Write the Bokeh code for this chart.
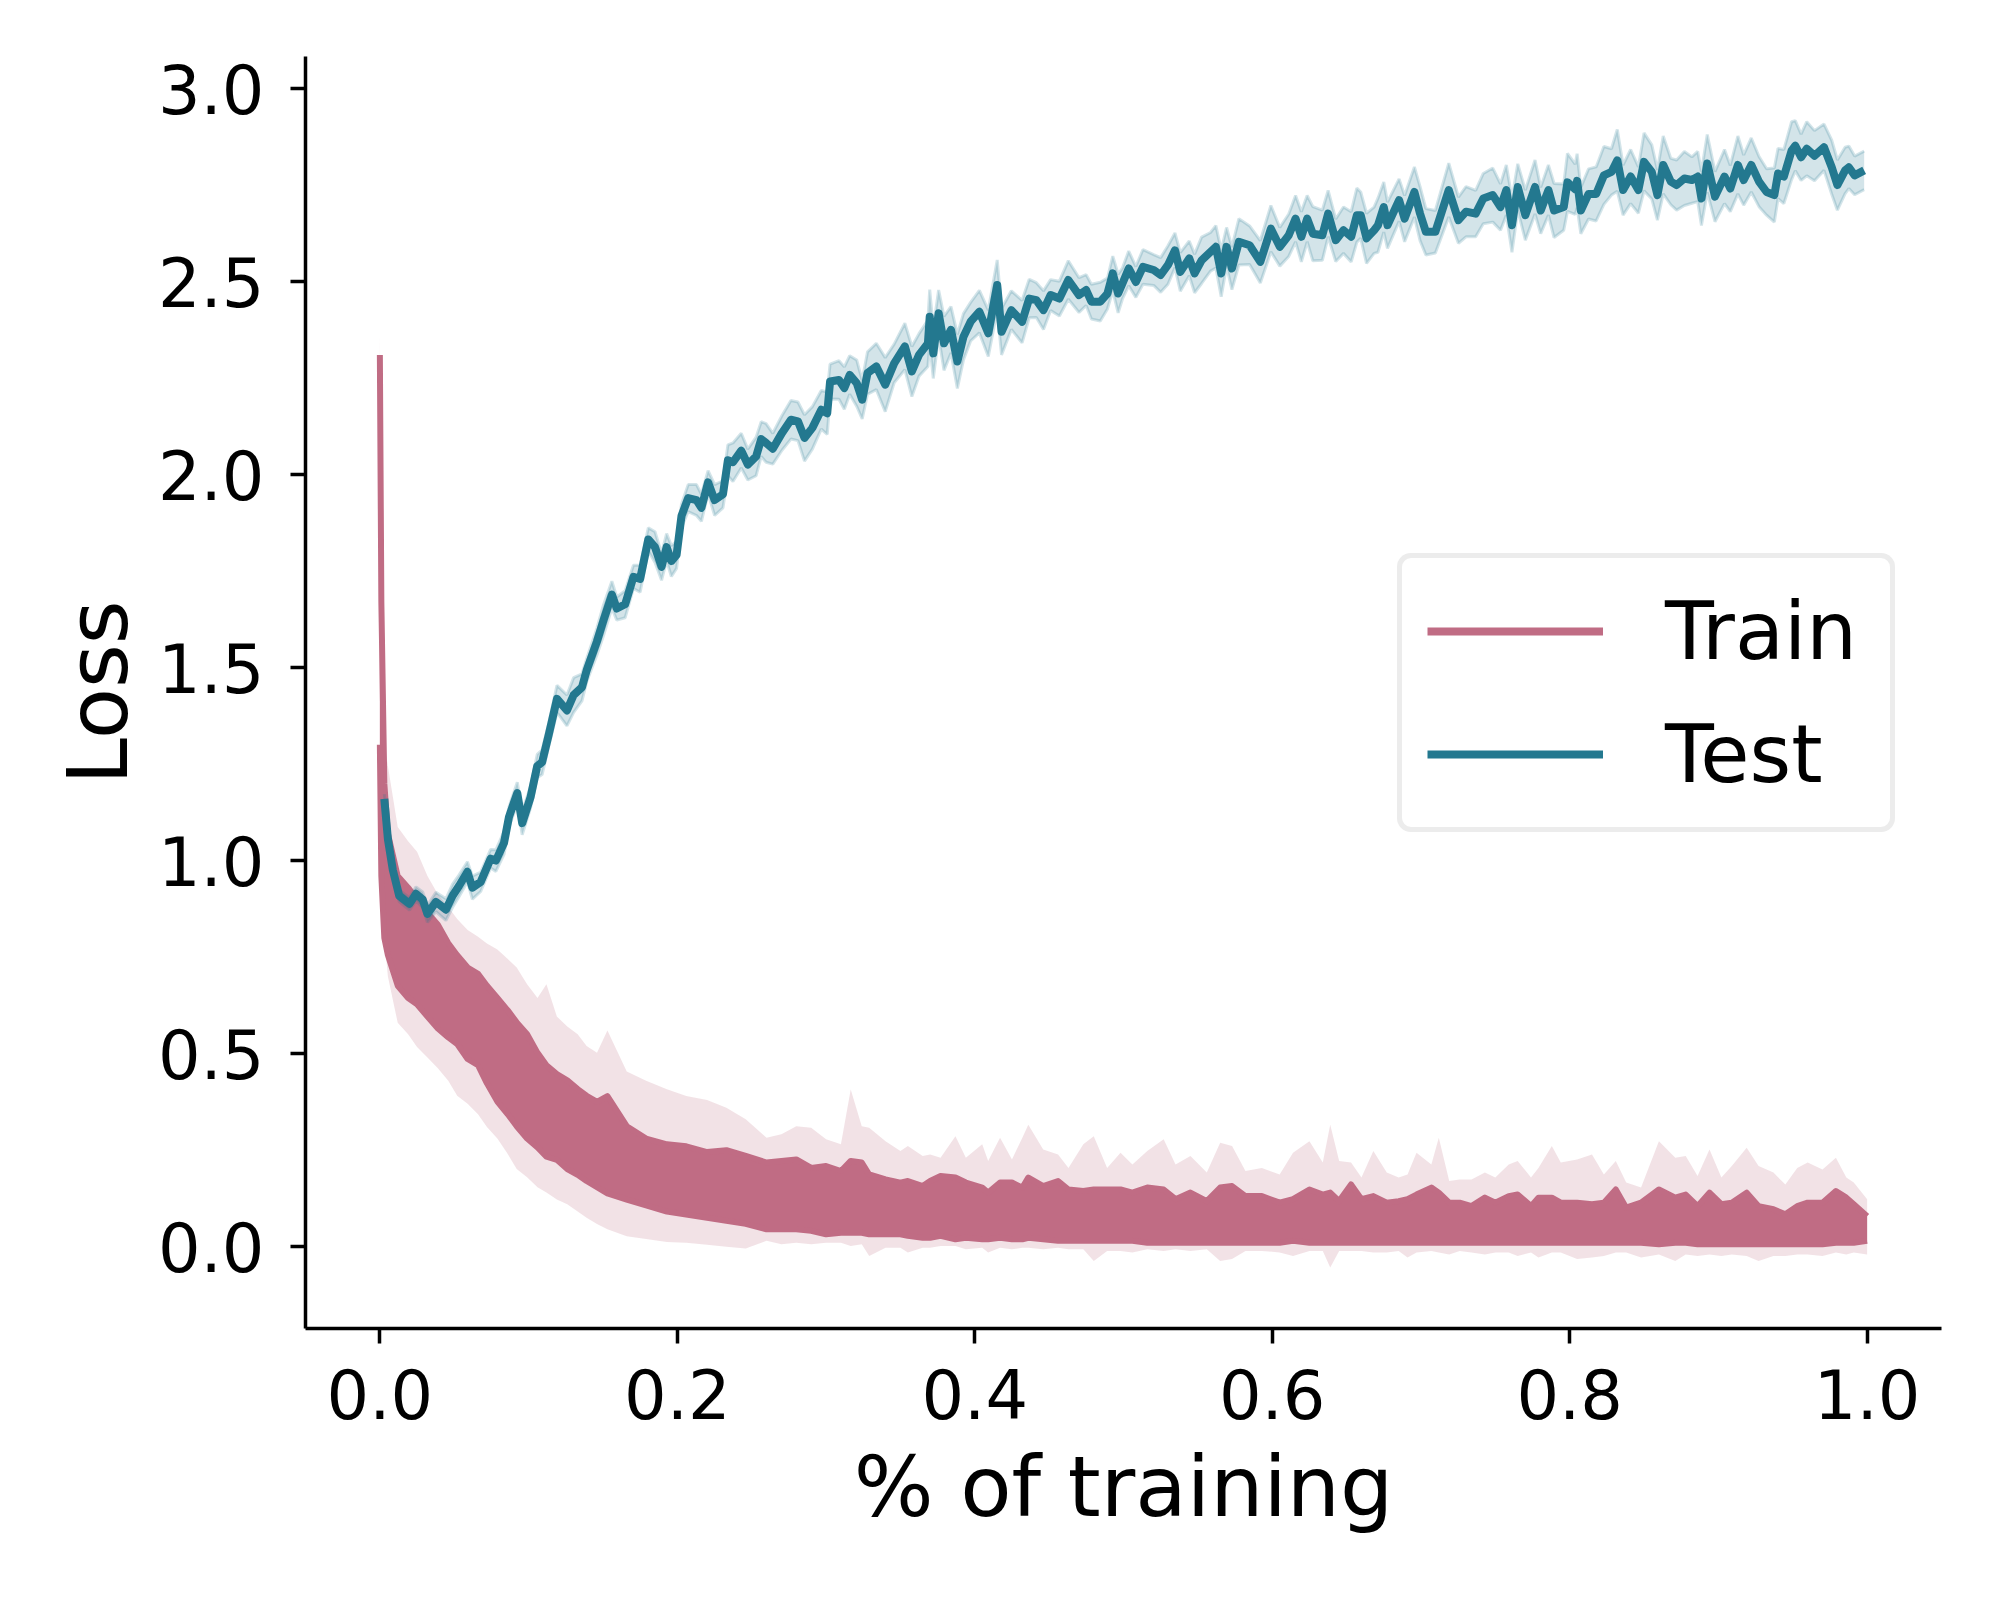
from bokeh.plotting import figure
from bokeh.models import Range1d, FixedTicker, NumeralTickFormatter, Legend, LegendItem, ColumnDataSource
from bokeh.embed import file_html
from bokeh.resources import INLINE

# ---------------- data ----------------
x_ticks = [0.0, 0.2, 0.4, 0.6, 0.8, 1.0]
y_ticks = [0.0, 0.5, 1.0, 1.5, 2.0, 2.5, 3.0]

# Train: envelope of the dense, oscillating mean line and its light CI band
train_x = [0.0, 0.001, 0.003, 0.0054, 0.012, 0.019, 0.025, 0.032, 0.039, 0.046,
           0.052, 0.059, 0.066, 0.072, 0.079, 0.086, 0.092, 0.099, 0.106, 0.112,
           0.119, 0.126, 0.133, 0.139, 0.146, 0.153, 0.166, 0.179, 0.193, 0.206,
           0.220, 0.233, 0.246,
           0.260, 0.270, 0.280, 0.290, 0.300, 0.310, 0.3166, 0.324, 0.329, 0.340,
           0.350, 0.355, 0.365, 0.370, 0.377, 0.387, 0.394, 0.405, 0.409, 0.417,
           0.425, 0.432, 0.436, 0.446, 0.456, 0.463, 0.473, 0.480, 0.489, 0.498,
           0.506, 0.516, 0.527, 0.535, 0.545, 0.556, 0.565, 0.573, 0.582, 0.593,
           0.605, 0.614, 0.625, 0.634,
           0.639, 0.645, 0.653, 0.660, 0.668, 0.677, 0.685, 0.691, 0.697, 0.707,
           0.712, 0.719, 0.726, 0.734, 0.743, 0.750, 0.759, 0.765, 0.774, 0.779,
           0.788, 0.794, 0.805, 0.815, 0.823, 0.831, 0.838, 0.848, 0.860, 0.871,
           0.878, 0.886, 0.894, 0.902, 0.909, 0.919, 0.927, 0.937, 0.945, 0.953,
           0.960, 0.970, 0.979, 0.986, 0.991, 1.0]
train_mean_hi = [2.31, 1.67, 1.20, 1.07, 0.96, 0.93, 0.90, 0.865, 0.834, 0.786,
                 0.755, 0.723, 0.707, 0.676, 0.644, 0.612, 0.581, 0.55, 0.502, 0.47,
                 0.447, 0.431, 0.408, 0.391, 0.375, 0.39, 0.312, 0.28, 0.265, 0.26,
                 0.245, 0.25, 0.235,
                 0.218, 0.222, 0.226, 0.204, 0.209, 0.196, 0.222, 0.218, 0.187, 0.174,
                 0.166, 0.170, 0.157, 0.170, 0.183, 0.179, 0.166, 0.153, 0.140, 0.166,
                 0.166, 0.153, 0.179, 0.157, 0.170, 0.148, 0.144, 0.148, 0.148, 0.148,
                 0.140, 0.153, 0.148, 0.123, 0.140, 0.118, 0.153, 0.157, 0.131, 0.131,
                 0.114, 0.123, 0.148, 0.135,
                 0.140, 0.118, 0.161, 0.123, 0.131, 0.114, 0.118, 0.123, 0.135, 0.153,
                 0.140, 0.114, 0.114, 0.105, 0.127, 0.114, 0.131, 0.135, 0.105, 0.127,
                 0.127, 0.114, 0.114, 0.110, 0.114, 0.148, 0.101, 0.114, 0.148, 0.127,
                 0.135, 0.105, 0.140, 0.110, 0.114, 0.140, 0.105, 0.097, 0.084, 0.105,
                 0.114, 0.114, 0.144, 0.127, 0.110, 0.079]
train_mean_lo = [1.30, 0.96, 0.80, 0.755, 0.676, 0.644, 0.628, 0.596, 0.565, 0.542,
                 0.525, 0.486, 0.47, 0.423, 0.376, 0.343, 0.312, 0.28, 0.257, 0.233,
                 0.225, 0.201, 0.186, 0.17, 0.154, 0.138, 0.122, 0.107, 0.091, 0.083,
                 0.075, 0.067, 0.059,
                 0.045, 0.045, 0.045, 0.041, 0.032, 0.036, 0.036, 0.036, 0.032, 0.032,
                 0.032, 0.028, 0.023, 0.023, 0.028, 0.019, 0.023, 0.019, 0.019, 0.023,
                 0.019, 0.019, 0.023, 0.019, 0.015, 0.015, 0.015, 0.015, 0.015, 0.015,
                 0.015, 0.010, 0.010, 0.010, 0.010, 0.010, 0.010, 0.010, 0.010, 0.010,
                 0.010, 0.015, 0.010, 0.010,
                 0.010, 0.010, 0.010, 0.010, 0.010, 0.010, 0.010, 0.010, 0.010, 0.010,
                 0.010, 0.010, 0.010, 0.010, 0.010, 0.010, 0.010, 0.010, 0.010, 0.010,
                 0.010, 0.010, 0.010, 0.010, 0.010, 0.010, 0.010, 0.010, 0.006, 0.010,
                 0.010, 0.006, 0.006, 0.006, 0.006, 0.006, 0.006, 0.006, 0.006, 0.006,
                 0.006, 0.006, 0.010, 0.010, 0.010, 0.015]
train_band_hi = [2.37, 1.70, 1.31, 1.245, 1.087, 1.05, 1.023, 0.96, 0.913, 0.88,
                 0.849, 0.82, 0.803, 0.785, 0.77, 0.745, 0.723, 0.68, 0.644, 0.68,
                 0.596, 0.57, 0.55, 0.52, 0.502, 0.56, 0.454, 0.43, 0.408, 0.39,
                 0.38, 0.36, 0.33,
                 0.282, 0.291, 0.312, 0.308, 0.278, 0.265, 0.407, 0.312, 0.308, 0.273,
                 0.248, 0.261, 0.235, 0.239, 0.230, 0.286, 0.230, 0.265, 0.222, 0.282,
                 0.226, 0.282, 0.316, 0.252, 0.239, 0.204, 0.265, 0.286, 0.204, 0.243,
                 0.213, 0.248, 0.278, 0.213, 0.235, 0.192, 0.269, 0.261, 0.196, 0.204,
                 0.187, 0.243, 0.273, 0.218,
                 0.316, 0.222, 0.218, 0.179, 0.248, 0.192, 0.179, 0.187, 0.243, 0.213,
                 0.282, 0.170, 0.174, 0.174, 0.192, 0.179, 0.213, 0.222, 0.179, 0.204,
                 0.261, 0.218, 0.226, 0.239, 0.187, 0.222, 0.166, 0.153, 0.273, 0.230,
                 0.235, 0.183, 0.252, 0.179, 0.209, 0.256, 0.209, 0.192, 0.161, 0.204,
                 0.218, 0.200, 0.230, 0.179, 0.166, 0.123]
train_band_lo = [1.20, 0.90, 0.80, 0.70, 0.58, 0.55, 0.517, 0.49, 0.462, 0.43,
                 0.391, 0.37, 0.343, 0.31, 0.28, 0.24, 0.201, 0.18, 0.154, 0.14,
                 0.122, 0.11, 0.091, 0.075, 0.059, 0.045, 0.027, 0.02, 0.012, 0.01,
                 0.005, 0.0, -0.005,
                 0.015, 0.006, 0.010, 0.006, 0.010, 0.010, 0.002, 0.006, -0.024, -0.003,
                 -0.003, -0.015, -0.003, -0.003, 0.002, 0.002, -0.007, -0.003, -0.015, -0.003,
                 -0.007, -0.003, -0.003, -0.007, -0.003, -0.007, -0.007, -0.037, -0.011, -0.011,
                 -0.015, -0.007, -0.011, -0.007, -0.011, -0.007, -0.037, -0.032, -0.011, -0.011,
                 -0.015, -0.024, -0.011, -0.011,
                 -0.054, -0.011, -0.011, -0.011, -0.015, -0.015, -0.011, -0.028, -0.015, -0.011,
                 -0.015, -0.020, -0.011, -0.015, -0.020, -0.015, -0.015, -0.024, -0.015, -0.028,
                 -0.015, -0.015, -0.032, -0.028, -0.024, -0.015, -0.015, -0.028, -0.020, -0.037,
                 -0.020, -0.024, -0.020, -0.024, -0.020, -0.024, -0.037, -0.024, -0.024, -0.020,
                 -0.020, -0.024, -0.015, -0.020, -0.015, -0.020]

# Test: mean line and CI half-width
test_x = [0.003, 0.0054, 0.0087, 0.013, 0.0199, 0.0243, 0.0288, 0.032, 0.0377, 0.0444,
          0.0489, 0.0533, 0.0589, 0.0622, 0.0678, 0.0745, 0.078, 0.0835, 0.0868, 0.0924,
          0.0957, 0.1013, 0.1058, 0.1091, 0.1136, 0.1191, 0.1258, 0.1303, 0.1359, 0.1392,
          0.1459, 0.1504, 0.156, 0.1593, 0.1649, 0.1705, 0.175, 0.1805, 0.185, 0.1894,
          0.1928, 0.196, 0.1995, 0.2028, 0.2073, 0.2129, 0.2162, 0.2207, 0.2251, 0.2307,
          0.234, 0.2374, 0.243, 0.2474, 0.253, 0.2564, 0.2597, 0.2642, 0.2704, 0.2764,
          0.2811, 0.2855, 0.2908, 0.2968, 0.3008, 0.3027, 0.3087, 0.3123, 0.3159, 0.3206,
          0.3243, 0.3279, 0.3338, 0.3398, 0.3458, 0.3530, 0.3577, 0.3625, 0.3685, 0.3697,
          0.3721, 0.3757, 0.3793, 0.384, 0.3883, 0.3924, 0.3972, 0.4031, 0.4091, 0.4151,
          0.418, 0.4246, 0.4318, 0.4366, 0.4414, 0.4462, 0.451, 0.4569, 0.4629, 0.4701,
          0.4749, 0.4784, 0.4844, 0.4892, 0.4928, 0.4964, 0.4993, 0.5035, 0.5083, 0.5131,
          0.5203, 0.525, 0.5299, 0.5346, 0.5382, 0.5442, 0.5478, 0.5525, 0.5585, 0.5621,
          0.5657, 0.5693, 0.5729, 0.5776, 0.5848, 0.5920, 0.5991, 0.6051, 0.6111, 0.6157,
          0.6196, 0.6235, 0.6273, 0.6337, 0.6376, 0.6427, 0.6479, 0.6531, 0.6569, 0.6595,
          0.6634, 0.6685, 0.6711, 0.675, 0.6775, 0.6853, 0.689, 0.6956, 0.6994, 0.7033,
          0.7097, 0.7187, 0.7252, 0.7303, 0.7368, 0.7419, 0.7483, 0.7535, 0.7574, 0.7612,
          0.7651, 0.7702, 0.7767, 0.7805, 0.7857, 0.7895, 0.796, 0.7985, 0.8037, 0.805,
          0.8075, 0.8127, 0.8178, 0.823, 0.8281, 0.832, 0.8359, 0.841, 0.8462, 0.85,
          0.8552, 0.859, 0.8629, 0.868, 0.8719, 0.8771, 0.8822, 0.8861, 0.8886, 0.8925,
          0.8977, 0.9041, 0.908, 0.9131, 0.917, 0.9221, 0.9273, 0.9324, 0.9376, 0.9401,
          0.944, 0.9492, 0.9517, 0.9556, 0.9594, 0.9646, 0.971, 0.9762, 0.98, 0.9852,
          0.9877, 0.9916, 0.998]
test_y = [1.16, 1.056, 0.976, 0.909, 0.888, 0.914, 0.899, 0.862, 0.893, 0.873,
          0.909, 0.935, 0.971, 0.930, 0.945, 1.005, 1.000, 1.046, 1.113, 1.175,
          1.097, 1.164, 1.245, 1.255, 1.327, 1.419, 1.389, 1.429, 1.449, 1.495,
          1.567, 1.623, 1.689, 1.653, 1.664, 1.735, 1.730, 1.832, 1.812, 1.761,
          1.812, 1.776, 1.792, 1.893, 1.939, 1.934, 1.914, 1.980, 1.934, 1.949,
          2.037, 2.032, 2.062, 2.026, 2.047, 2.092, 2.082, 2.067, 2.108, 2.142,
          2.138, 2.095, 2.121, 2.168, 2.159, 2.241, 2.245, 2.224, 2.258, 2.237,
          2.194, 2.263, 2.280, 2.233, 2.288, 2.332, 2.267, 2.310, 2.340, 2.409,
          2.314, 2.418, 2.340, 2.375, 2.293, 2.357, 2.396, 2.422, 2.366, 2.491,
          2.370, 2.426, 2.396, 2.456, 2.452, 2.426, 2.465, 2.456, 2.504, 2.465,
          2.478, 2.448, 2.448, 2.469, 2.521, 2.469, 2.495, 2.534, 2.499, 2.538,
          2.530, 2.517, 2.543, 2.581, 2.525, 2.560, 2.521, 2.555, 2.577, 2.590,
          2.521, 2.590, 2.534, 2.603, 2.594, 2.551, 2.637, 2.590, 2.620, 2.663,
          2.616, 2.663, 2.624, 2.620, 2.676, 2.607, 2.633, 2.616, 2.672, 2.672,
          2.612, 2.633, 2.646, 2.693, 2.646, 2.711, 2.663, 2.732, 2.676, 2.629,
          2.629, 2.737, 2.659, 2.681, 2.676, 2.715, 2.724, 2.693, 2.737, 2.646,
          2.745, 2.672, 2.745, 2.684, 2.737, 2.684, 2.693, 2.757, 2.739, 2.761,
          2.684, 2.727, 2.727, 2.775, 2.784, 2.814, 2.737, 2.772, 2.737, 2.810,
          2.784, 2.724, 2.802, 2.759, 2.750, 2.767, 2.763, 2.772, 2.715, 2.806,
          2.720, 2.772, 2.741, 2.802, 2.763, 2.802, 2.759, 2.732, 2.724, 2.780,
          2.772, 2.839, 2.852, 2.822, 2.844, 2.826, 2.848, 2.796, 2.750, 2.788,
          2.796, 2.775, 2.788]
test_ci = [0.012, 0.012, 0.014, 0.015, 0.016, 0.018, 0.02, 0.022, 0.025, 0.028,
           0.03, 0.028, 0.026, 0.03, 0.025, 0.024, 0.028, 0.03, 0.026, 0.028,
           0.03, 0.028, 0.03, 0.032, 0.03, 0.035, 0.04, 0.045, 0.035, 0.03,
           0.035, 0.04, 0.035, 0.03, 0.035, 0.03, 0.035, 0.03, 0.04, 0.035,
           0.035, 0.04, 0.035, 0.03, 0.035, 0.04, 0.035, 0.03, 0.04, 0.035,
           0.04, 0.05, 0.045, 0.04, 0.05, 0.045, 0.05, 0.04, 0.045, 0.05,
           0.05, 0.06, 0.055, 0.05, 0.055, 0.045, 0.05, 0.055, 0.05, 0.06,
           0.05, 0.055, 0.06, 0.07, 0.05, 0.06, 0.065, 0.055, 0.06, 0.07,
           0.065, 0.06, 0.07, 0.06, 0.07, 0.06, 0.05, 0.055, 0.06, 0.065,
           0.06, 0.05, 0.055, 0.05, 0.045, 0.05, 0.04, 0.045, 0.05, 0.045,
           0.04, 0.045, 0.05, 0.04, 0.045, 0.05, 0.04, 0.045, 0.04, 0.045,
           0.04, 0.045, 0.05, 0.045, 0.05, 0.045, 0.05, 0.06, 0.05, 0.055,
           0.06, 0.05, 0.055, 0.06, 0.05, 0.055, 0.06, 0.05, 0.055, 0.06,
           0.065, 0.06, 0.07, 0.065, 0.06, 0.055, 0.06, 0.065, 0.07, 0.06,
           0.065, 0.06, 0.07, 0.065, 0.06, 0.055, 0.06, 0.065, 0.07, 0.06,
           0.055, 0.07, 0.06, 0.065, 0.06, 0.065, 0.07, 0.06, 0.065, 0.07,
           0.06, 0.065, 0.07, 0.06, 0.065, 0.07, 0.06, 0.075, 0.065, 0.07,
           0.06, 0.065, 0.07, 0.075, 0.06, 0.08, 0.065, 0.07, 0.06, 0.075,
           0.07, 0.065, 0.075, 0.06, 0.065, 0.07, 0.06, 0.065, 0.07, 0.075,
           0.065, 0.07, 0.06, 0.075, 0.065, 0.07, 0.065, 0.06, 0.07, 0.065,
           0.07, 0.075, 0.065, 0.06, 0.07, 0.065, 0.06, 0.07, 0.065, 0.06,
           0.055, 0.05, 0.05]

series_labels = ["Train", "Test"]

# ---------------- styling ----------------
PINK = "#C06C84"
TEAL = "#23788F"
FONT = "DejaVu Sans"

nt = min(len(train_x), len(train_mean_hi), len(train_mean_lo), len(train_band_hi), len(train_band_lo))
n = min(len(test_x), len(test_y), len(test_ci))
test_lo = [test_y[i] - test_ci[i] for i in range(n)]
test_hi = [test_y[i] + test_ci[i] for i in range(n)]

train_src = ColumnDataSource(dict(x=train_x[:nt], mhi=train_mean_hi[:nt], mlo=train_mean_lo[:nt],
                                  bhi=train_band_hi[:nt], blo=train_band_lo[:nt]))
test_src = ColumnDataSource(dict(x=test_x[:n], y=test_y[:n], lo=test_lo, hi=test_hi))

p = figure(width=1984, height=1584, output_backend="svg", toolbar_location=None,
           x_range=Range1d(-0.05, 1.05), y_range=Range1d(-0.212, 3.083),
           min_border_left=305, min_border_right=43, min_border_top=56,
           min_border_bottom=256)
p.outline_line_color = None
p.grid.visible = False
p.background_fill_color = "white"
p.border_fill_color = "white"

# train
p.varea(x="x", y1="blo", y2="bhi", source=train_src, fill_color=PINK, fill_alpha=0.2)
p.varea(x="x", y1="mlo", y2="mhi", source=train_src, fill_color=PINK, fill_alpha=1.0)
p.line(x="x", y="mhi", source=train_src, line_color=PINK, line_width=6, line_join="round")
p.line(x="x", y="mlo", source=train_src, line_color=PINK, line_width=6, line_join="round")

# test
p.varea(x="x", y1="lo", y2="hi", source=test_src, fill_color=TEAL, fill_alpha=0.2)
p.line(x="x", y="lo", source=test_src, line_color=TEAL, line_alpha=0.2, line_width=3)
p.line(x="x", y="hi", source=test_src, line_color=TEAL, line_alpha=0.2, line_width=3)
p.line(x="x", y="y", source=test_src, line_color=TEAL, line_width=8, line_join="round")

# legend proxies (a single point: draws nothing in the plot)
proxy = ColumnDataSource(dict(x=[x_ticks[0]], y=[y_ticks[0]]))
leg_train = p.line(x="x", y="y", source=proxy, line_color=PINK, line_width=8)
leg_test = p.line(x="x", y="y", source=proxy, line_color=TEAL, line_width=8)

# axes
for ax in (p.xaxis[0], p.yaxis[0]):
    ax.axis_line_width = 3.5
    ax.axis_line_color = "black"
    ax.major_tick_line_width = 3.5
    ax.major_tick_line_color = "black"
    ax.major_tick_out = 15
    ax.major_tick_in = 0
    ax.minor_tick_line_color = None
    ax.major_label_text_font = FONT
    ax.major_label_text_font_size = "67px"
    ax.major_label_text_color = "black"
    ax.axis_label_text_font = FONT
    ax.axis_label_text_font_size = "84px"
    ax.axis_label_text_font_style = "normal"
    ax.axis_label_text_color = "black"
    ax.formatter = NumeralTickFormatter(format="0.0")

p.xaxis[0].ticker = FixedTicker(ticks=x_ticks, minor_ticks=[])
p.yaxis[0].ticker = FixedTicker(ticks=y_ticks, minor_ticks=[])
p.xaxis[0].axis_label = "% of training"
p.yaxis[0].axis_label = "Loss"
p.xaxis[0].major_label_standoff = 25
p.yaxis[0].major_label_standoff = 26
p.xaxis[0].axis_label_standoff = 16
p.yaxis[0].axis_label_standoff = 8

legend = Legend(items=[LegendItem(label=series_labels[0], renderers=[leg_train]),
                       LegendItem(label=series_labels[1], renderers=[leg_test])],
                location=(1092, 496))
legend.margin = 0
legend.padding = 25
legend.spacing = 27
legend.glyph_width = 176
legend.glyph_height = 96
legend.label_height = 96
legend.label_width = 200
legend.label_standoff = 62
legend.label_text_font = FONT
legend.label_text_font_size = "80px"
legend.label_text_baseline = "middle"
legend.label_text_color = "black"
legend.border_line_color = "#d9d9d9"
legend.border_line_width = 5
legend.background_fill_color = "white"
legend.background_fill_alpha = 1.0
if "border_radius" in Legend.properties():
    legend.border_radius = 14
p.add_layout(legend)

open("out.html", "w").write(file_html(p, INLINE))
